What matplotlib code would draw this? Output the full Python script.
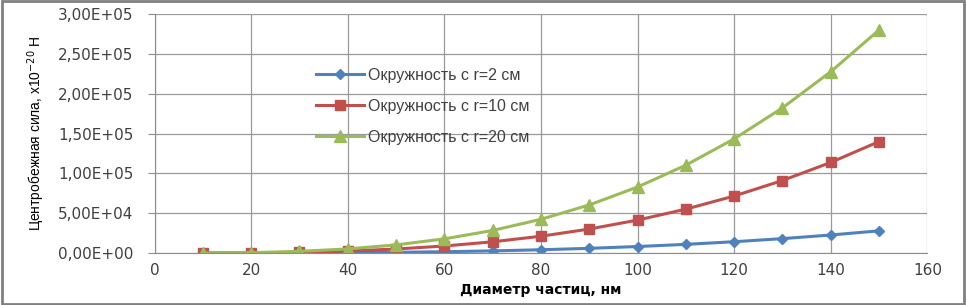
import matplotlib
matplotlib.use("Agg")
import matplotlib.pyplot as plt
from matplotlib.patches import Rectangle
from matplotlib.ticker import FuncFormatter, MultipleLocator

diam = [10, 20, 30, 40, 50, 60, 70, 80, 90, 100, 110, 120, 130, 140, 150]
f_r2 = [8, 66, 224, 531, 1037, 1792, 2846, 4248, 6048, 8296, 11042, 14336, 18227, 22765, 28000]
f_r10 = [42, 332, 1120, 2655, 5185, 8960, 14230, 21240, 30240, 41480, 55210, 71680, 91135, 113825, 140000]
f_r20 = [83, 664, 2240, 5310, 10370, 17920, 28460, 42480, 60480, 82960, 110420, 143360, 182270, 227650, 280000]
names = ["Окружность с r=2 см", "Окружность с r=10 см", "Окружность с r=20 см"]

fig = plt.figure(figsize=(9.66, 3.05), dpi=100)
ax = fig.add_axes([0.160, 0.170, 0.800, 0.784])

ax.plot(diam, f_r2, color="#4F81BD", lw=2.2, marker="D", ms=5.5, label=names[0])
ax.plot(diam, f_r10, color="#C0504D", lw=2.2, marker="s", ms=7.5, label=names[1])
ax.plot(diam, f_r20, color="#9BBB59", lw=2.2, marker="^", ms=8.5, label=names[2])

ax.set_xlim(0, 160)
ax.set_ylim(0, 300000)
ax.xaxis.set_major_locator(MultipleLocator(20))
ax.yaxis.set_major_locator(MultipleLocator(50000))

def sci(v, pos):
    s = "%.2E" % v
    return s.replace(".", ",")

ax.yaxis.set_major_formatter(FuncFormatter(sci))
ax.grid(True, color="#9a9a9a", lw=0.9)
ax.set_axisbelow(True)
for k in ["top", "right"]:
    ax.spines[k].set_visible(False)
for k in ["left", "bottom"]:
    ax.spines[k].set_color("#8c8c8c")
ax.tick_params(axis="both", colors="#8c8c8c", labelcolor="#404040", labelsize=11, length=5)
ax.tick_params(axis="y", pad=10)
ax.tick_params(axis="x", length=0, pad=7)

ax.set_xlabel("Диаметр частиц, нм", fontsize=10, fontweight="bold", labelpad=4)
ax.set_ylabel("Центробежная сила, x10$^{-20}$ Н", fontsize=10,
              family="Liberation Sans", labelpad=8)

leg = ax.legend(loc="upper left", bbox_to_anchor=(0.19, 0.835), frameon=False,
                labelspacing=1.0, handlelength=3.0, handletextpad=0.3,
                prop={"family": "Liberation Sans", "size": 11.5})
for t in leg.get_texts():
    t.set_color("#404040")

fig.patches.append(Rectangle((0.002, 0.004), 0.996, 0.992, transform=fig.transFigure,
                             fill=False, edgecolor="#808080", lw=2))

fig.savefig("out.png", dpi=100)
